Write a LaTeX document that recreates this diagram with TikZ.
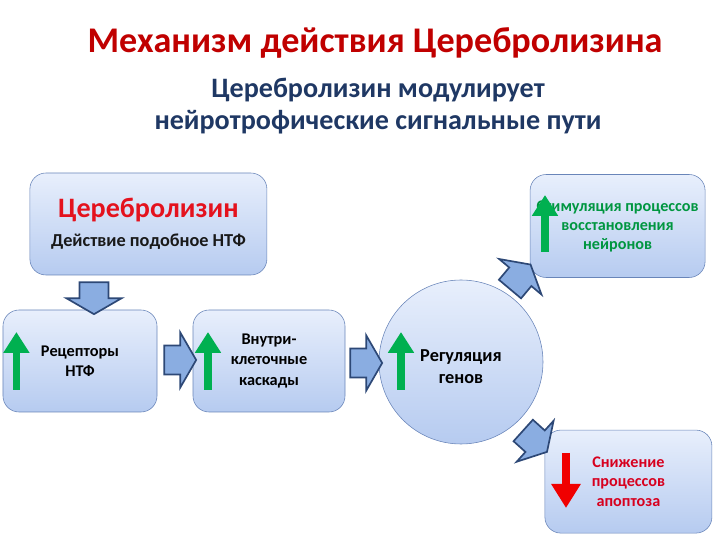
\documentclass[tikz,border=0pt]{standalone}
\usepackage{fontspec}
\setmainfont{Carlito}
\usepackage{tikz}
\usetikzlibrary{shapes.arrows,arrows.meta}
\definecolor{titlered}{RGB}{192,0,0}
\definecolor{subblue}{RGB}{31,56,100}
\definecolor{boxtop}{RGB}{232,239,252}
\definecolor{boxbot}{RGB}{182,203,240}
\definecolor{boxline}{RGB}{105,133,185}
\definecolor{arrfill}{RGB}{138,173,225}
\definecolor{arrline}{RGB}{45,72,118}
\definecolor{upgreen}{RGB}{0,176,80}
\definecolor{textgreen}{RGB}{0,150,64}
\definecolor{downred}{RGB}{240,0,0}
\definecolor{textred}{RGB}{215,0,30}
\definecolor{cerred}{RGB}{228,18,30}
\tikzset{%
    panel/.style={%
        draw=boxline, rounded corners=0.4cm, top color=boxtop, bottom color=boxbot,
        minimum height=2.55cm, align=center, font=\bfseries\fontsize{11.6}{14.5}\selectfont
    },
    blockarrow/.style={%
        single arrow, draw=arrline, line width=1.2pt, fill=arrfill,
        inner xsep=0pt, inner ysep=0.34cm,
        minimum height=0.8cm,
        single arrow head extend=0.33cm, single arrow tip angle=120
    },
    greenup/.style={draw=upgreen, line width=5pt, -{Triangle[width=0.62cm,length=0.52cm]}},
    reddown/.style={draw=downred, line width=5.5pt, -{Triangle[width=0.7cm,length=0.6cm]}}
}

\begin{document}
\begin{tikzpicture}
\useasboundingbox (0,0) rectangle (18,13.5);
% headings
\node[text=titlered, font=\bfseries\fontsize{25.7}{30}\selectfont] (title) at (9.375,12.425) {Механизм действия Церебролизина};
\node[text=subblue, align=center, font=\bfseries\fontsize{20}{22.7}\selectfont] (sub) at (9.45,10.85)
    {Церебролизин модулирует\\нейротрофические сигнальные пути};
% boxes
\node[panel, minimum width=5.925cm] (cer) at (3.71,7.9)
    {{\color{cerred}\fontsize{20}{22}\selectfont Церебролизин}\\[6pt]
     {\color{black!90}\fontsize{13}{15}\selectfont Действие подобное НТФ}};
\node[panel, minimum width=3.85cm] (rec) at (2.0,4.475) {Рецепторы\\НТФ};
\node[panel, minimum width=3.8cm] (casc) at (6.725,4.475) {Внутри-\\клеточные\\каскады};
\node[circle, draw=boxline, top color=boxtop, bottom color=boxbot, minimum size=4.1cm,
      align=center, font=\bfseries\fontsize{13}{15.6}\selectfont] (gene) at (11.525,4.45)
    {\rule{0pt}{0.55cm}Регуляция\\генов};
\node[panel, minimum width=4.375cm, minimum height=2.575cm, text=textgreen,
      font=\bfseries\fontsize{11.5}{13.5}\selectfont] (stim) at (15.44,7.85)
    {Стимуляция процессов\\восстановления\\нейронов};
\node[panel, minimum width=4.175cm, minimum height=2.575cm, text=textred,
      font=\bfseries\fontsize{11.5}{13.8}\selectfont] (apo) at (15.71,1.46)
    {Снижение\\процессов\\апоптоза};
% block arrows
\node[blockarrow, rotate=-90] (a1) at (2.35,6.15) {};
\node[blockarrow] (a2) at (4.4,4.5) {};
\node[blockarrow] (a3) at (9.05,4.425) {};
\node[blockarrow, rotate=50] (a4) at (12.94,6.5) {};
\node[blockarrow, rotate=-42] (a5) at (13.3,2.54) {};
% up / down marks
\draw[greenup] (0.41,3.75) -- (0.41,5.2);
\draw[greenup] (5.2,3.75) -- (5.2,5.2);
\draw[greenup] (10.025,3.75) -- (10.025,5.2);
\draw[greenup] (13.625,7.2) -- (13.625,8.625);
\draw[reddown] (14.15,2.175) -- (14.15,0.8);
\end{tikzpicture}
\end{document}
